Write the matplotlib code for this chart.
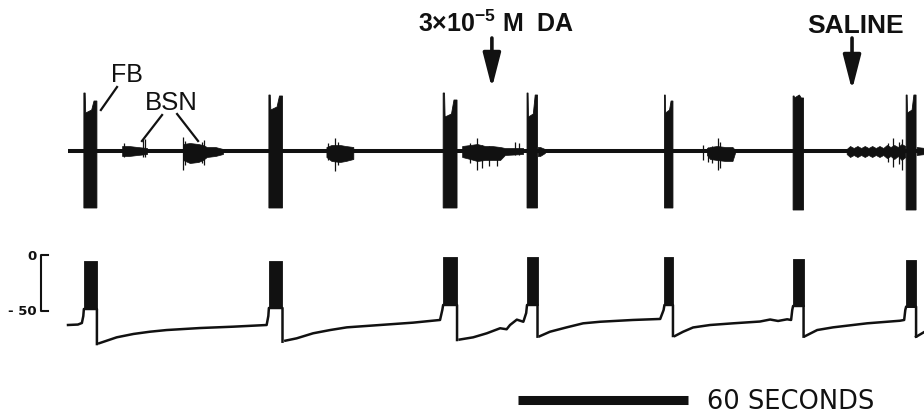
import matplotlib
matplotlib.use("Agg")
import matplotlib.pyplot as plt

plt.rcParams["font.family"] = ["Liberation Sans", "DejaVu Sans"]
plt.rcParams["mathtext.fontset"] = "custom"
plt.rcParams["mathtext.rm"] = "Liberation Sans:bold"
plt.rcParams["mathtext.it"] = "Liberation Sans:bold"
plt.rcParams["mathtext.bf"] = "Liberation Sans:bold"

INK = "#111111"
T_END = 302.5          # seconds of record shown

# ---------------- fictive bursts (FB), seconds ----------------
fb_on = [5.6, 70.9, 132.4, 162.0, 210.5, 255.9, 295.8]
fb_off = [10.2, 75.7, 137.3, 165.7, 213.5, 259.6, 299.3]

# extracellular record (arbitrary units, baseline = 0)
fb_first = [58, 56, 58, 58, 56, 55, 56]      # leading spike
fb_mid = [38, 41, 34, 34, 38, 53, 38]        # envelope mid-burst
fb_last = [50, 55, 51, 56, 50, 53, 56]       # envelope at burst end
fb_floor = [-57, -57, -57, -57, -57, -59, -59]

# small bursts between FBs (BSN): envelope vertices per episode
bsn_t = [
    [19.1, 21.5, 24.5, 27.9],
    [40.6, 43.0, 46.0, 47.6, 49.0, 52.0, 54.7],
    [91.2, 93.0, 96.0, 98.0, 100.7],
    [139.1, 141.9, 144.4, 147.2, 149.6, 152.5, 154.2, 160.6],
    [165.8, 166.6, 168.3],
    [225.5, 226.6, 229.0, 232.0, 234.5, 235.4],
    [274.8, 276.0, 277.3, 278.6, 279.9, 281.2, 282.5, 283.8, 285.1,
     286.4, 287.7, 289.0, 290.3, 291.6, 292.9, 294.2, 295.5],
    [299.5, 302.5],
]
bsn_hi = [
    [5, 5, 4, 3],
    [7, 8, 7, 6, 4, 4, 2],
    [4, 6, 6, 5, 4],
    [5, 6, 7, 5, 5, 4, 3, 3],
    [4, 4, 2],
    [3, 4, 5, 4, 4, 1],
    [2, 5, 3, 5, 3, 5, 3, 5, 3, 5, 3, 6, 4, 6, 4, 7, 5],
    [4, 3],
]
bsn_lo = [
    [-5, -5, -4, -3],
    [-9, -12, -11, -9, -6, -5, -3],
    [-6, -10, -11, -10, -8],
    [-6, -8, -10, -9, -9, -9, -4, -3],
    [-5, -5, -2],
    [-4, -8, -9, -10, -10, -2],
    [-3, -6, -4, -6, -4, -6, -4, -6, -4, -6, -4, -7, -5, -8, -5, -9, -6],
    [-4, -3],
]
# individual large units within the BSN episodes
spk_t = [19.8, 26.5, 27.2, 40.5, 41.2, 47.3, 48.0, 91.9, 94.2, 95.4,
         142.0, 144.4, 146.0, 148.5, 151.4, 157.8, 159.2,
         224.2, 226.0, 227.2, 229.5, 230.1,
         289.5, 291.3, 293.3, 294.2]
spk_hi = [8, 12, 12, 14, 10, 9, 11, 8, 13, 9,
          8, 13, 6, 5, 2, 9, 8,
          6, 4, 5, 13, 9,
          8, 13, 9, 12]
spk_lo = [-6, -6, -6, -19, -14, -12, -14, -9, -20, -14,
          -12, -19, -17, -15, -15, -4, -4,
          -9, -11, -12, -19, -17,
          -11, -16, -13, -19]

# ---------------- intracellular record (mV) ----------------
vm_peak = [-5.4, -5.1, -2.1, -1.5, -2.1, -3.9, -4.5]
vm_plateau = [-48.2, -47.3, -44.6, -44.6, -44.6, -45.5, -46.1]
vm_trough = [-79.5, -77.4, -75.9, -72.9, -72.3, -72.9, -72.9]

# membrane potential between bursts (segment k precedes burst k)
vm_seg_t = [
    [0.0, 3.5, 4.9, 5.4],
    [11.0, 17.2, 23.1, 28.9, 34.8, 46.6, 58.3, 70.1, 70.7],
    [76.7, 80.7, 86.5, 92.5, 98.4, 110.1, 121.8, 131.3, 132.1],
    [138.2, 143.0, 147.8, 152.5, 154.8, 156.0, 158.4, 160.7, 161.7],
    [166.5, 170.1, 176.0, 181.8, 187.8, 199.4, 209.0, 210.2],
    [214.2, 217.1, 220.6, 226.6, 234.7, 244.2, 247.8, 250.6, 253.8, 255.2, 255.6],
    [260.1, 264.4, 270.0, 282.0, 293.6, 295.1, 295.5],
    [299.8, 302.5],
]
vm_seg_v = [
    [-62.5, -62.1, -60.7, -54.5],
    [-78.8, -73.5, -70.5, -68.5, -67.0, -65.2, -64.0, -62.5, -54.5],
    [-76.5, -74.4, -69.9, -67.0, -64.6, -62.5, -60.4, -58.0, -49.1],
    [-75.5, -73.5, -69.9, -65.4, -66.3, -62.5, -57.7, -59.6, -51.8],
    [-72.5, -68.5, -64.6, -61.0, -59.6, -58.0, -57.1, -49.1],
    [-72.3, -68.5, -64.7, -62.5, -61.0, -59.4, -57.6, -58.9, -57.4, -58.0, -49.1],
    [-72.5, -67.0, -64.6, -61.0, -58.7, -58.0, -49.1],
    [-72.3, -68.3],
]

# ---------------- figure ----------------
fig = plt.figure(figsize=(9.24, 4.16), dpi=100)
fig.patch.set_facecolor("white")
XLIM = (-24.0, 302.1)

ax_ex = fig.add_axes([0, 1 - 235 / 416, 1, 235 / 416])
ax_in = fig.add_axes([0, 0, 1, 181 / 416])
for ax in (ax_ex, ax_in):
    ax.set_xlim(*XLIM)
    ax.axis("off")
ax_ex.set_ylim(-84, 151)
ax_in.set_ylim(-143.75, 17.86)

# --- extracellular trace ---
ax_ex.plot([0, T_END], [0, 0], color=INK, lw=2.9, solid_capstyle="butt")
for t0, t1, a0, am, a1, lo in zip(fb_on, fb_off, fb_first, fb_mid, fb_last, fb_floor):
    d = t1 - t0
    xs = [t0, t0, t0 + 0.1 * d, t0 + 0.14 * d, t0 + 0.6 * d, t0 + 0.78 * d, t1, t1]
    ys = [lo, a0, a0, am, am + 3, a1, a1, lo]
    ax_ex.fill(xs, ys, color=INK, lw=0.6, ec=INK)

for ts, hi, lo in zip(bsn_t, bsn_hi, bsn_lo):
    ax_ex.fill_between(ts, lo, hi, color=INK, lw=0.5)
ax_ex.vlines(spk_t, spk_lo, spk_hi, color=INK, lw=0.9)

# labels
ax_ex.text(15.3, 69, "FB", fontsize=18, color=INK, ha="left", va="baseline")
ax_ex.plot([17.3, 11.6], [64, 41], color=INK, lw=1.6)
ax_ex.text(27.0, 41, "BSN", fontsize=18.5, color=INK, ha="left", va="baseline")
ax_ex.plot([33.2, 26.1], [36, 10], color=INK, lw=1.6)
ax_ex.plot([38.5, 45.9], [37, 10], color=INK, lw=1.6)

ax_ex.text(123.5, 119, r"3$\times$10$^{-5}$ M  DA", fontsize=18, fontweight="bold",
           color=INK, ha="left", va="baseline")
ax_ex.text(260.8, 118, "SALINE", fontsize=19, fontweight="bold",
           color=INK, ha="left", va="baseline")
arrow = dict(arrowstyle="-|>,head_length=1.05,head_width=0.27", lw=2.6,
             color=INK, mutation_scale=20, shrinkA=0, shrinkB=0)
ax_ex.annotate("", xy=(149.6, 63), xytext=(149.6, 113), arrowprops=arrow)
ax_ex.annotate("", xy=(276.7, 61), xytext=(276.7, 113), arrowprops=arrow)

# --- intracellular trace ---
for k, (t0, t1) in enumerate(zip(fb_on, fb_off)):
    ax_in.fill_between([t0, t1], vm_plateau[k], vm_peak[k], color=INK, lw=0.6)
    xs = vm_seg_t[k] + [t0, t1, t1]
    ys = vm_seg_v[k] + [vm_plateau[k], vm_plateau[k], vm_trough[k]]
    ax_in.plot(xs, ys, color=INK, lw=1.8, solid_joinstyle="round")
ax_in.plot([fb_off[-1]] + vm_seg_t[-1], [vm_trough[-1]] + vm_seg_v[-1],
           color=INK, lw=1.8)

# voltage calibration
ax_in.plot([-6.9, -9.5, -9.5, -6.9], [0, 0, -50, -50], color=INK, lw=1.5)
ax_in.text(-10.9, -1.5, "0", fontsize=9.5, fontweight="bold", family="DejaVu Sans",
           color=INK, ha="right", va="center")
ax_in.text(-10.9, -50.6, "- 50", fontsize=9.5, fontweight="bold", family="DejaVu Sans",
           color=INK, ha="right", va="center")

# time calibration
ax_in.plot([158.8, 218.8], [-129.5, -129.5], color=INK, lw=6.5, solid_capstyle="butt")
ax_in.text(225.5, -137.5, "60 SECONDS", fontsize=18.5, family="DejaVu Sans",
           color=INK, ha="left", va="baseline")

fig.savefig("out.png", dpi=100, facecolor="white")
